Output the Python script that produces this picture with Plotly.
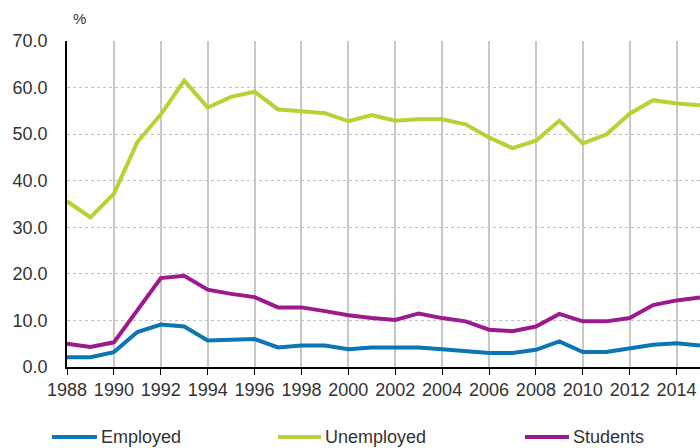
import plotly.graph_objects as go

years = list(range(1988, 2016))
employed = [2.1, 2.1, 3.2, 7.5, 9.1, 8.7, 5.7, 5.9, 6.0, 4.2, 4.6, 4.6, 3.8, 4.2, 4.2, 4.2,
            3.8, 3.4, 3.0, 3.0, 3.7, 5.5, 3.2, 3.2, 4.0, 4.8, 5.1, 4.6]
unemployed = [35.6, 32.1, 37.2, 48.3, 54.2, 61.5, 55.7, 58.0, 59.1, 55.3, 54.9, 54.5, 52.8, 54.1,
              52.9, 53.2, 53.2, 52.1, 49.3, 47.0, 48.6, 52.9, 48.0, 49.9, 54.4, 57.3, 56.6, 56.2]
students = [5.0, 4.3, 5.3, 12.1, 19.1, 19.6, 16.6, 15.7, 15.0, 12.8, 12.8, 12.0, 11.1, 10.5,
            10.1, 11.5, 10.5, 9.8, 8.0, 7.7, 8.7, 11.4, 9.8, 9.8, 10.5, 13.3, 14.3, 14.9]

series_names = ["Employed", "Unemployed", "Students"]
colors = ["#0a76b4", "#b5d334", "#9c1a8c"]

W, H = 700, 448
ML, MR, MT = 67, 0, 41
PLOT_BOTTOM = 367
MB = H - PLOT_BOTTOM
PW, PH = W - ML - MR, H - MT - MB


def px_x(p):  # window pixel -> paper
    return (p - ML) / PW


def px_y(p):
    return (PLOT_BOTTOM - p) / PH


fig = go.Figure()
for name, vals, col in zip(series_names, [employed, unemployed, students], colors):
    fig.add_trace(go.Scatter(x=years, y=vals, mode="lines", name=name,
                             line=dict(color=col, width=4), showlegend=False))

# manual legend (positions in window pixels)
legend_pos = [(52, 97), (278, 321), (525, 569)]
legend_y = 437
shapes = []
annotations = []
for name, col, (a, b) in zip(series_names, colors, legend_pos):
    shapes.append(dict(type="line", xref="paper", yref="paper",
                       x0=px_x(a), x1=px_x(b), y0=px_y(legend_y), y1=px_y(legend_y),
                       line=dict(color=col, width=4)))
    annotations.append(dict(text=name, xref="paper", yref="paper", x=px_x(b + 2),
                            y=px_y(legend_y), xanchor="left", yanchor="middle",
                            showarrow=False, font=dict(size=18, color="#333333")))

annotations.append(dict(text="%", xref="paper", yref="paper", x=px_x(71), y=px_y(19),
                        xanchor="left", yanchor="middle", showarrow=False,
                        font=dict(size=15, color="#333333")))

font = "Liberation Sans, Arial, sans-serif"
fig.update_layout(
    width=W, height=H,
    margin=dict(l=ML, r=MR, t=MT, b=MB, autoexpand=False),
    plot_bgcolor="white", paper_bgcolor="white",
    font=dict(family=font, size=18, color="#333333"),
    showlegend=False,
    xaxis=dict(range=[1988, 2015], tick0=1988, dtick=2, showgrid=True, gridcolor="#c8c8c8",
               gridwidth=1.5, showline=True, linecolor="black", linewidth=1.5,
               ticks="outside", ticklen=6, tickcolor="black", zeroline=False,
               automargin=False, tickfont=dict(size=18, color="#333333")),
    yaxis=dict(range=[0, 70], dtick=10, tickformat=".1f", showgrid=True, gridcolor="#c0c0c0",
               griddash="dot", gridwidth=1, showline=True, linecolor="black", linewidth=1.5,
               ticks="", zeroline=False, ticklabelstandoff=14, automargin=False,
               tickfont=dict(size=18, color="#333333")),
    shapes=shapes,
    annotations=annotations,
)

fig.write_html(
    "out.html",
    config={"displayModeBar": False},
    post_script="document.body.style.margin='0';document.body.style.overflow='hidden';"
                "document.documentElement.style.overflow='hidden';",
)
